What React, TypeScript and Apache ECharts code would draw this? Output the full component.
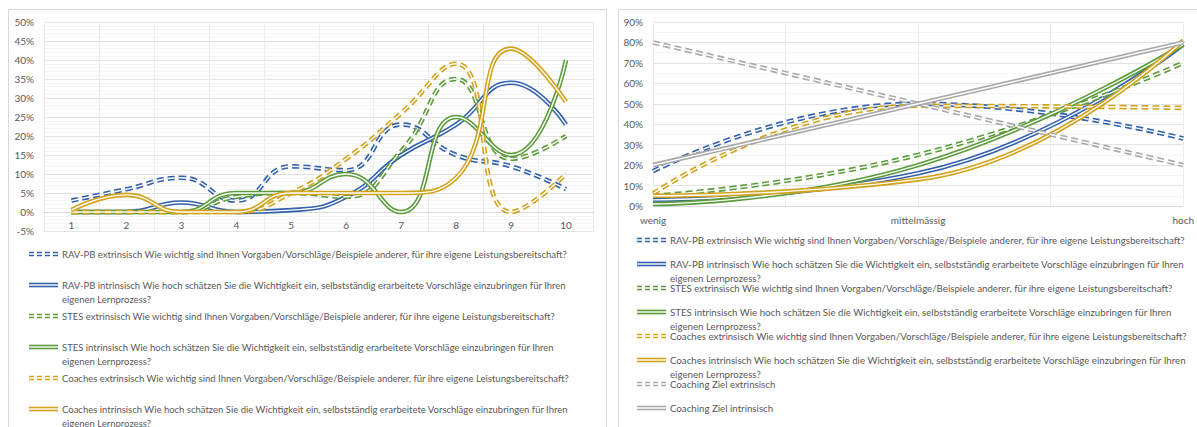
import React, { useEffect, useRef } from "react";
import * as echarts from "echarts";

// ---------- data ----------
const leftCategories = ["1", "2", "3", "4", "5", "6", "7", "8", "9", "10"];
const rightCategories = ["wenig", "mittelmässig", "hoch"];

// left chart (values in %)
const ravExtLeft = [3, 6, 9, 3, 12, 11, 23, 15, 12, 6];
const ravIntLeft = [0, 0, 2.5, 0, 0.5, 4, 15, 23, 34, 23];
const stesExtLeft = [0, 0, 0, 4, 5, 4, 16, 35, 14, 20];
const stesIntLeft = [0, 0, 0, 5, 5, 10, 0, 25, 15, 40];
const coachExtLeft = [0, 0, 0, 0, 5, 14, 26, 39, 0, 10];
const coachIntLeft = [0.5, 4.5, 0, 0, 5, 5, 5, 9, 43, 29];

// right chart (values in %)
const ravExtRight = [17, 50, 33];
const ravIntRight = [3, 16, 79];
const stesExtRight = [5, 25, 70];
const stesIntRight = [1, 20, 79];
const coachExtRight = [6, 49, 48];
const coachIntRight = [5, 13, 81];
const zielExtRight = [80, 50, 20];
const zielIntRight = [20, 50, 80];

const extQuestion =
  "extrinsisch Wie wichtig sind Ihnen Vorgaben/Vorschläge/Beispiele anderer, für ihre eigene Leistungsbereitschaft?";
const intQuestion =
  "intrinsisch Wie hoch schätzen Sie die Wichtigkeit ein, selbstständig erarbeitete Vorschläge einzubringen für Ihren\neigenen Lernprozess?";

const leftNames = [
  "RAV-PB " + extQuestion,
  "RAV-PB " + intQuestion,
  "STES " + extQuestion,
  "STES " + intQuestion,
  "Coaches " + extQuestion,
  "Coaches " + intQuestion,
];
const rightNames = [...leftNames, "Coaching Ziel extrinsisch", "Coaching Ziel intrinsisch"];

const BLUE = "#3260ad";
const GREEN = "#5b9b3a";
const GOLD = "#d2a21b";
const GRAY = "#a8a8a8";

const leftSeriesDefs = [
  { data: ravExtLeft, color: BLUE, dashed: true },
  { data: ravIntLeft, color: BLUE, dashed: false },
  { data: stesExtLeft, color: GREEN, dashed: true },
  { data: stesIntLeft, color: GREEN, dashed: false },
  { data: coachExtLeft, color: GOLD, dashed: true },
  { data: coachIntLeft, color: GOLD, dashed: false },
];
const rightSeriesDefs = [
  { data: ravExtRight, color: BLUE, dashed: true },
  { data: ravIntRight, color: BLUE, dashed: false },
  { data: stesExtRight, color: GREEN, dashed: true },
  { data: stesIntRight, color: GREEN, dashed: false },
  { data: coachExtRight, color: GOLD, dashed: true },
  { data: coachIntRight, color: GOLD, dashed: false },
  { data: zielExtRight, color: GRAY, dashed: true },
  { data: zielIntRight, color: GRAY, dashed: false },
];

const FONT = "Lato";
const TEXT_COLOR = "#595959";
const PLOT_DASH = [7, 4];
const ICON_DASH = [5, 3];

function doubleLine(name: string, data: any[], color: string, dashed: boolean, axis: number) {
  const base = {
    type: "line",
    smooth: 0.5,
    symbol: "none",
    silent: true,
    xAxisIndex: axis,
    yAxisIndex: axis,
    data,
  };
  return [
    {
      ...base,
      name,
      lineStyle: { color, width: 4.6, type: dashed ? PLOT_DASH : "solid", cap: "butt" },
    },
    {
      ...base,
      name: name + " (inner)",
      lineStyle: { color: "#ffffff", width: 1.4, type: dashed ? PLOT_DASH : "solid", cap: "butt" },
    },
  ];
}

function legendItems(
  names: string[],
  defs: any[],
  iconX0: number,
  iconX1: number,
  textX: number,
  y0: number,
  step: number,
  fontSize: number
) {
  const els: any[] = [];
  names.forEach((name, i) => {
    const d = defs[i];
    const y = y0 + step * i;
    els.push({
      type: "line",
      silent: true,
      shape: { x1: iconX0, y1: y, x2: iconX1, y2: y },
      style: { stroke: d.color, lineWidth: 4.6, lineDash: d.dashed ? ICON_DASH : null },
    });
    els.push({
      type: "line",
      silent: true,
      shape: { x1: iconX0, y1: y, x2: iconX1, y2: y },
      style: { stroke: "#ffffff", lineWidth: 1.4, lineDash: d.dashed ? ICON_DASH : null },
    });
    els.push({
      type: "text",
      silent: true,
      x: textX,
      y: y - 7,
      style: {
        text: name,
        fill: TEXT_COLOR,
        fontSize,
        fontFamily: FONT,
        lineHeight: 14,
        verticalAlign: "top",
        align: "left",
      },
    });
  });
  return els;
}

export default function App() {
  const ref = useRef<HTMLDivElement>(null);

  useEffect(() => {
    if (!ref.current) return;
    const chart = echarts.init(ref.current, undefined, { renderer: "svg" });

    const series: any[] = [];
    leftSeriesDefs.forEach((d, i) => {
      series.push(...doubleLine("L " + leftNames[i], d.data, d.color, d.dashed, 0));
    });
    rightSeriesDefs.forEach((d, i) => {
      series.push(
        ...doubleLine(
          "R " + rightNames[i],
          d.data.map((v: number, k: number) => [k, v]),
          d.color,
          d.dashed,
          1
        )
      );
    });

    const axisLabel = { color: TEXT_COLOR, fontSize: 10, fontFamily: FONT };

    const option: any = {
      animation: false,
      textStyle: { fontFamily: FONT },
      grid: [
        { left: 44, top: 22, width: 549.5, height: 209 },
        { left: 653, top: 22, width: 534, height: 184 },
      ],
      xAxis: [
        {
          gridIndex: 0,
          type: "category",
          data: leftCategories,
          boundaryGap: true,
          position: "bottom",
          offset: -19,
          axisLine: { show: true, onZero: false, lineStyle: { color: "#d9d9d9" } },
          axisTick: { show: false },
          axisLabel: { ...axisLabel, margin: 8 },
          splitLine: { show: true, lineStyle: { color: "#ececec", width: 1 } },
        },
        {
          gridIndex: 1,
          type: "value",
          min: 0,
          max: 2,
          interval: 0.5,
          axisLine: { show: true, lineStyle: { color: "#d9d9d9" } },
          axisTick: { show: false },
          axisLabel: {
            ...axisLabel,
            margin: 9,
            formatter: (v: number) => (Number.isInteger(v) ? rightCategories[v] : ""),
          },
          splitLine: { show: true, lineStyle: { color: "#ececec", width: 1 } },
        },
      ],
      yAxis: [
        {
          gridIndex: 0,
          type: "value",
          min: -5,
          max: 50,
          interval: 5,
          axisLine: { show: false },
          axisTick: { show: false },
          axisLabel: { ...axisLabel, margin: 10, formatter: "{value}%" },
          splitLine: { show: true, lineStyle: { color: "#e3e3e3" } },
          minorTick: { show: false, splitNumber: 5 },
          minorSplitLine: { show: true, lineStyle: { color: "#f4f4f4" } },
        },
        {
          gridIndex: 1,
          type: "value",
          min: 0,
          max: 90,
          interval: 10,
          axisLine: { show: false },
          axisTick: { show: false },
          axisLabel: { ...axisLabel, margin: 10, formatter: "{value}%" },
          splitLine: { show: true, lineStyle: { color: "#e3e3e3" } },
          minorTick: { show: false, splitNumber: 2 },
          minorSplitLine: { show: true, lineStyle: { color: "#f4f4f4" } },
        },
      ],
      series,
      graphic: {
        elements: [
          {
            type: "rect",
            silent: true,
            shape: { x: 8.5, y: 9.5, width: 598, height: 440 },
            style: { fill: "none", stroke: "#d9d9d9", lineWidth: 1 },
          },
          {
            type: "rect",
            silent: true,
            shape: { x: 618.5, y: 9.5, width: 600, height: 440 },
            style: { fill: "none", stroke: "#d9d9d9", lineWidth: 1 },
          },
          ...legendItems(leftNames, leftSeriesDefs, 29, 58, 62, 254, 31, 9.5),
          ...legendItems(rightNames, rightSeriesDefs, 637, 666, 670, 240, 24, 9.7),
        ],
      },
    };

    chart.setOption(option);
    return () => chart.dispose();
  }, []);

  return (
    <div
      ref={ref}
      style={{ position: "absolute", left: 0, top: 0, width: 1197, height: 427, background: "#fff" }}
    />
  );
}
